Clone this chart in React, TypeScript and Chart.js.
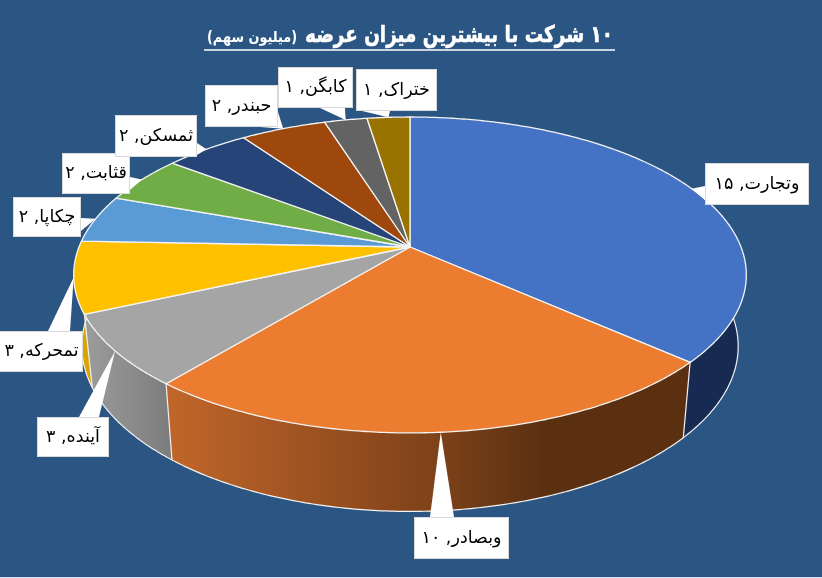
import React, { useEffect, useRef } from "react";
import { Chart, registerables } from "chart.js";

Chart.register(...registerables);

const companies = ["وتجارت", "وبصادر", "آینده", "تمحرکه", "چکاپا", "قثابت", "ثمسکن", "حبندر", "کابگن", "ختراک"];
const shares = [15, 10, 3, 3, 2, 2, 2, 2, 1, 1];
const titleMain = "۱۰ شرکت با بیشترین میزان عرضه";
const titleUnit = "(میلیون سهم)";
const sliceColors = ["#4472c4", "#ec7c30", "#a5a5a5", "#ffc000", "#5b9bd5", "#70ad47", "#264478", "#9e480e", "#636363", "#997300"];

const BG = "#2b5582";
const FONT = '"DejaVu Sans", sans-serif';
// wall gradient stops, left to right, per slice
const wallColors: [number, string][][] = [
  [[0, "#172b52"], [1, "#172b52"]],
  [[0, "#c1662a"], [0.52, "#7d4119"], [0.72, "#5b3011"], [1, "#5b3011"]],
  [[0, "#9c9c9c"], [1, "#7c7c7c"]],
  [[0, "#dba700"], [1, "#d9a300"]],
  [[0, "#4f86b8"], [1, "#4f86b8"]],
  [[0, "#5f933c"], [1, "#5f933c"]],
  [[0, "#1f3860"], [1, "#1f3860"]],
  [[0, "#7f3a0b"], [1, "#7f3a0b"]],
  [[0, "#505050"], [1, "#505050"]],
  [[0, "#7a5c00"], [1, "#7a5c00"]],
];
// callout boxes: x0, y0, x1, y1, pointer base as [ax, ay, bx, by]
const calloutBoxes = [
  [705, 163, 809, 205, 705, 186, 705, 200],
  [414, 517, 509, 559, 430, 517, 454, 517],
  [37, 417, 109, 457, 79, 417, 99, 417],
  [-2, 331, 83, 372, 48, 331, 70, 331],
  [13, 197, 81, 237, 81, 218, 81, 231],
  [62, 153, 130, 194, 130, 177, 130, 190],
  [115, 115, 197, 157, 197, 143, 197, 155],
  [205, 85, 278, 127, 260, 127, 278, 112],
  [278, 67, 353, 108, 320, 108, 345, 108],
  [356, 69, 437, 111, 362, 111, 390, 111],
];

type Plane = { cx: number; cy: number; sx: number; sy: number; k: number };
const topPlane: Plane = { cx: 410, cy: 247, sx: 331, sy: 153, k: 0.177 };
const lowPlane: Plane = { cx: 410, cy: 317, sx: 323, sy: 160, k: 0.177 };

const project = (p: Plane, a: number, r = 1) => {
  const u = Math.cos(a) * r;
  const v = Math.sin(a) * r;
  const d = 1 - p.k * v;
  return [p.cx + (p.sx * u) / d, p.cy + (p.sy * v) / d];
};

const rimPoints = (p: Plane, a0: number, a1: number) => {
  const n = Math.max(4, Math.ceil(Math.abs(a1 - a0) / 0.01));
  const pts: number[][] = [];
  for (let i = 0; i <= n; i++) pts.push(project(p, a0 + ((a1 - a0) * i) / n));
  return pts;
};

const toFa = (n: number) => String(n).replace(/\d/g, (d) => "۰۱۲۳۴۵۶۷۸۹"[Number(d)]);

const pie3d = {
  id: "pie3d",
  beforeDatasetsDraw(chart: any) {
    const ctx: CanvasRenderingContext2D = chart.ctx;
    const arcs = chart.getDatasetMeta(0).data;
    ctx.save();
    ctx.lineJoin = "round";

    // outer walls
    arcs.forEach((arc: any, i: number) => {
      const top = rimPoints(topPlane, arc.startAngle, arc.endAngle);
      const low = rimPoints(lowPlane, arc.startAngle, arc.endAngle);
      const xs = top.concat(low).map((q) => q[0]);
      const g = ctx.createLinearGradient(Math.min(...xs), 0, Math.max(...xs), 0);
      wallColors[i].forEach(([s, c]) => g.addColorStop(s, c));
      ctx.beginPath();
      top.forEach((q, j) => (j ? ctx.lineTo(q[0], q[1]) : ctx.moveTo(q[0], q[1])));
      low.slice().reverse().forEach((q) => ctx.lineTo(q[0], q[1]));
      ctx.closePath();
      ctx.fillStyle = g;
      ctx.fill();
    });

    // wall outlines: lower rim and the seams at the front
    ctx.strokeStyle = "#f2f2f2";
    ctx.lineWidth = 1.2;
    arcs.forEach((arc: any) => {
      const low = rimPoints(lowPlane, arc.startAngle, arc.endAngle);
      ctx.beginPath();
      low.forEach((q, j) => (j ? ctx.lineTo(q[0], q[1]) : ctx.moveTo(q[0], q[1])));
      ctx.stroke();
      const a = arc.startAngle;
      if (Math.sin(a) > 0.05) {
        const p0 = project(topPlane, a);
        const p1 = project(lowPlane, a);
        ctx.beginPath();
        ctx.moveTo(p0[0], p0[1]);
        ctx.lineTo(p1[0], p1[1]);
        ctx.stroke();
      }
    });

    // top faces
    arcs.forEach((arc: any) => {
      const top = rimPoints(topPlane, arc.startAngle, arc.endAngle);
      ctx.beginPath();
      ctx.moveTo(topPlane.cx, topPlane.cy);
      top.forEach((q) => ctx.lineTo(q[0], q[1]));
      ctx.closePath();
      ctx.fillStyle = arc.options.backgroundColor;
      ctx.fill();
      ctx.strokeStyle = "#f4f4f4";
      ctx.lineWidth = 1.3;
      ctx.stroke();
    });

    // callouts
    arcs.forEach((arc: any, i: number) => {
      const [x0, y0, x1, y1, ax, ay, bx, by] = calloutBoxes[i];
      const tip = project(topPlane, (arc.startAngle + arc.endAngle) / 2);
      ctx.beginPath();
      ctx.moveTo(ax, ay);
      ctx.lineTo(tip[0], tip[1]);
      ctx.lineTo(bx, by);
      ctx.closePath();
      ctx.fillStyle = "#ffffff";
      ctx.fill();
      ctx.fillRect(x0, y0, x1 - x0, y1 - y0);
      ctx.strokeStyle = "#d9d9d9";
      ctx.lineWidth = 1;
      ctx.strokeRect(x0 + 0.5, y0 + 0.5, x1 - x0 - 1, y1 - y0 - 1);
      ctx.fillStyle = "#000000";
      ctx.font = `17.5px ${FONT}`;
      ctx.textAlign = "center";
      ctx.textBaseline = "middle";
      (ctx as any).direction = "rtl";
      ctx.fillText(`${chart.data.labels[i]}, ${toFa(chart.data.datasets[0].data[i])}`, (Math.max(x0, 0) + x1) / 2, (y0 + y1) / 2);
    });

    // title
    ctx.fillStyle = "#ffffff";
    ctx.strokeStyle = "#ffffff";
    (ctx as any).direction = "rtl";
    ctx.textAlign = "right";
    ctx.textBaseline = "alphabetic";
    ctx.lineWidth = 0.6;
    ctx.font = `bold 23px ${FONT}`;
    ctx.fillText(titleMain, 613, 42, 308);
    ctx.strokeText(titleMain, 613, 42, 308);
    ctx.font = `bold 15px ${FONT}`;
    ctx.fillText(titleUnit, 297, 42, 90);
    ctx.lineWidth = 1.5;
    ctx.beginPath();
    ctx.moveTo(204, 50);
    ctx.lineTo(615, 50);
    ctx.stroke();

    ctx.restore();
    return false;
  },
};

export default function App() {
  const ref = useRef<HTMLCanvasElement>(null);
  useEffect(() => {
    const chart = new Chart(ref.current!, {
      type: "pie",
      data: {
        labels: companies,
        datasets: [{ data: shares, backgroundColor: sliceColors }],
      },
      options: {
        animation: false,
        responsive: false,
        plugins: { legend: { display: false }, tooltip: { enabled: false } },
      },
      plugins: [pie3d],
    } as any);
    return () => chart.destroy();
  }, []);
  return (
    <div style={{ position: "fixed", left: 0, top: 0, width: 822, height: 578, background: BG, overflow: "hidden" }}>
      <canvas ref={ref} width={822} height={578} style={{ display: "block" }} />
      <div style={{ position: "absolute", left: 0, bottom: 0, width: 822, height: 1, background: "#cfe2f3" }} />
    </div>
  );
}
